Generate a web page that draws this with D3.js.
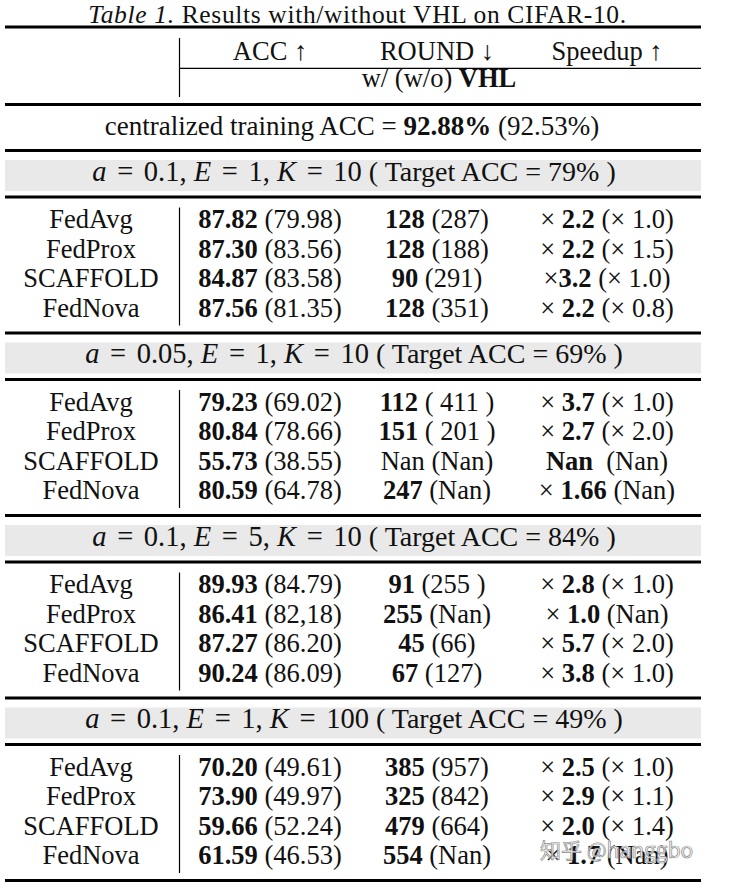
<!DOCTYPE html>
<html><head><meta charset="utf-8">
<script src="https://cdn.jsdelivr.net/npm/d3@7"></script>
<style>body{margin:0;background:#fff}text{white-space:pre}</style>
</head><body><svg id="c" width="731" height="890"></svg>
<script>
// ---------- data ----------
const methods = ["FedAvg", "FedProx", "SCAFFOLD", "FedNova"];
const columns = ["ACC ↑", "ROUND ↓", "Speedup ↑"];
const settingA = ["0.1", "0.05", "0.1", "0.1"];
const settingE = ["1", "1", "5", "1"];
const settingK = ["10", "10", "10", "100"];
const targetAcc = ["79%", "69%", "84%", "49%"];
const centralWith = "92.88%";
const centralWithout = "92.53%";
const accWith = [
  ["87.82", "87.30", "84.87", "87.56"],
  ["79.23", "80.84", "55.73", "80.59"],
  ["89.93", "86.41", "87.27", "90.24"],
  ["70.20", "73.90", "59.66", "61.59"]
];
const accWithout = [
  ["79.98", "83.56", "83.58", "81.35"],
  ["69.02", "78.66", "38.55", "64.78"],
  ["84.79", "82,18", "86.20", "86.09"],
  ["49.61", "49.97", "52.24", "46.53"]
];
const roundWith = [
  ["128", "128", "90", "128"],
  ["112", "151", "Nan", "247"],
  ["91", "255", "45", "67"],
  ["385", "325", "479", "554"]
];
const roundWithout = [
  ["287", "188", "291", "351"],
  [" 411 ", " 201 ", "Nan", "Nan"],
  ["255 ", "Nan", "66", "127"],
  ["957", "842", "664", "Nan"]
];
const speedWith = [
  ["× 2.2", "× 2.2", "×3.2", "× 2.2"],
  ["× 3.7", "× 2.7", "Nan ", "× 1.66"],
  ["× 2.8", "× 1.0", "× 5.7", "× 3.8"],
  ["× 2.5", "× 2.9", "× 2.0", "× 1.7"]
];
const speedWithout = [
  ["× 1.0", "× 1.5", "× 1.0", "× 0.8"],
  ["× 1.0", "× 2.0", "Nan", "Nan"],
  ["× 1.0", "Nan", "× 2.0", "× 1.0"],
  ["× 1.0", "× 1.1", "× 1.4", "Nan"]
];

// ---------- layout ----------
const L = 5, R = 701, VX = 179.5;
const FS = 26.5;
const serif = "'Liberation Serif','Times New Roman',serif";
const svg = d3.select("#c");

const colX = d3.scaleOrdinal().domain(["name", ...columns]).range([91, 270, 437, 607]);
const blockY = d3.scaleLinear().domain([0, 4]).range([150.5, 880.5]);
const rowY = d3.scaleLinear().domain([0, 3]).range([77.5, 77.5 + 3 * 29.6]);

function rich(x, y, segs, size, anchor) {
  const t = svg.append("text").attr("x", x).attr("y", y)
    .attr("text-anchor", anchor || "middle")
    .attr("font-family", serif).attr("font-size", size || FS).attr("fill", "#111");
  segs.forEach(s => {
    const ts = t.append("tspan").text(s.t);
    if (s.b) ts.attr("font-weight", "bold");
    if (s.i) ts.attr("font-style", "italic");
    if (s.s) ts.attr("font-size", s.s);
    if (s.dx) ts.attr("dx", s.dx);
  });
  return t;
}
function hrule(y, x0, x1, w) {
  svg.append("line").attr("x1", x0).attr("x2", x1).attr("y1", y).attr("y2", y)
    .attr("stroke", "#000").attr("stroke-width", w);
}
function vrule(x, y0, y1) {
  svg.append("line").attr("x1", x).attr("x2", x).attr("y1", y0).attr("y2", y1)
    .attr("stroke", "#000").attr("stroke-width", 1.2);
}

// title
rich(357.5, 23, [{t: "Table 1.", i: true}, {t: " Results with/without VHL on CIFAR-10."}], 25.5)
  .attr("letter-spacing", 0.65);
hrule(27, L, R, 3.2);

// header
vrule(VX, 38, 97);
columns.forEach(c => rich(colX(c), 60, [{t: c}]));
hrule(68.3, VX, R, 1.2);
rich(439, 87, [{t: "w/ (w/o) "}, {t: "VHL", b: true}]);
hrule(104.5, L, R, 3.2);

// centralized
rich(352, 135, [{t: "centralized training ACC = "}, {t: centralWith, b: true}, {t: " (" + centralWithout + ")"}], 27);

// blocks
const MS = 28.5;
function eq() { return [{t: " ", s: MS}, {t: "=", s: MS, dx: 3.5}, {t: " ", s: MS, dx: 3.5}]; }
for (let bi = 0; bi < 4; bi++) {
  const y0 = blockY(bi);
  hrule(y0, L, R, 3.2);
  svg.append("rect").attr("x", L).attr("y", y0 + 9.5).attr("width", R - L).attr("height", 31)
    .attr("fill", "#e9e9e9");
  rich(354, y0 + 30, [
    {t: "a", i: true, s: MS}, ...eq(), {t: settingA[bi] + ", ", s: MS},
    {t: "E", i: true, s: MS}, ...eq(), {t: settingE[bi] + ", ", s: MS},
    {t: "K", i: true, s: MS}, ...eq(), {t: settingK[bi], s: MS},
    {t: " ( Target ACC = " + targetAcc[bi] + " )", s: 28}
  ]);
  hrule(y0 + 46.5, L, R, 3.2);
  vrule(VX, y0 + 57, y0 + 175);
  methods.forEach((m, ri) => {
    const y = y0 + rowY(ri);
    rich(colX("name"), y, [{t: m}]);
    rich(colX(columns[0]), y, [{t: accWith[bi][ri], b: true}, {t: " (" + accWithout[bi][ri] + ")"}]);
    const rw = roundWith[bi][ri];
    rich(colX(columns[1]), y, [{t: rw, b: rw !== "Nan"}, {t: " (" + roundWithout[bi][ri] + ")"}]);
    const sw = speedWith[bi][ri];
    const mm = sw.match(/^(×\s*)?(.*)$/);
    rich(colX(columns[2]), y, [{t: mm[1] || ""}, {t: mm[2], b: true}, {t: " (" + speedWithout[bi][ri] + ")"}]);
  });
}
hrule(blockY(4), L, R, 3.2);

// watermark
svg.append("text").attr("x", 540).attr("y", 858)
  .attr("font-family", "'Noto Sans CJK SC','Noto Sans',sans-serif").attr("font-size", 21)
  .attr("fill", "#f6f6f6").attr("fill-opacity", 0.85).attr("stroke", "#8a8a8a").attr("stroke-width", 0.7)
  .text("知乎 @hanggbo");
</script></body></html>
